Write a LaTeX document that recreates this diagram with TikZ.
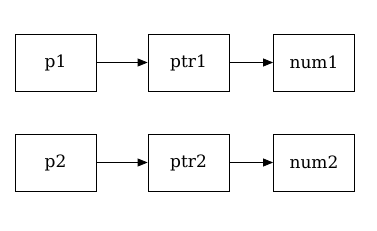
\documentclass[tikz,border=0pt]{standalone}
\usepackage{fontspec}
\setmainfont{DejaVu Serif}
\usetikzlibrary{arrows.meta}
\begin{document}
\begin{tikzpicture}[x=1pt, y=-1pt, >={Triangle[length=10pt,width=8pt]},
  cell/.style={draw, line width=0.8pt, minimum width=81pt, minimum height=57pt,
    inner sep=0pt, font=\fontsize{17}{20}\selectfont}]

% Frame
\useasboundingbox (0,0) rectangle (377,230);

% First row
\node[cell] (p1) at (55.5,62.5) {p1};
\node[cell] (ptr1) at (188.5,62.5) {ptr1};
\node[cell] (num1) at (314,62.5) {num1};

% Second row
\node[cell] (p2) at (55.5,162.5) {p2};
\node[cell] (ptr2) at (188.5,162.5) {ptr2};
\node[cell] (num2) at (314,162.5) {num2};

% Pointers
\draw[->, line width=0.8pt] (p1) -- (ptr1);
\draw[->, line width=0.8pt] (ptr1) -- (num1);
\draw[->, line width=0.8pt] (p2) -- (ptr2);
\draw[->, line width=0.8pt] (ptr2) -- (num2);

\end{tikzpicture}
\end{document}
